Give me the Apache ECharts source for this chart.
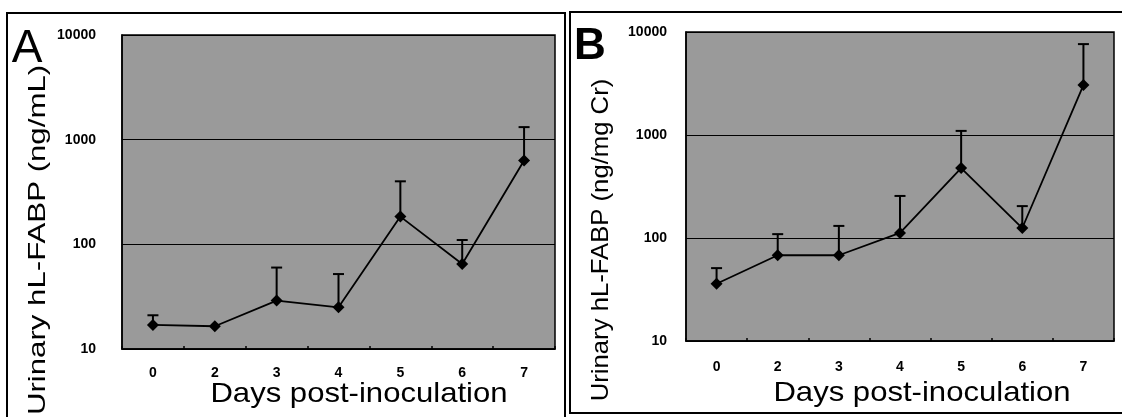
<!DOCTYPE html>
<html>
<head>
<meta charset="utf-8">
<script src="https://cdn.jsdelivr.net/npm/echarts@6/dist/echarts.min.js"></script>
<style>
  html, body { margin: 0; padding: 0; background: #fff; }
  #chart { width: 1122px; height: 417px; }
</style>
</head>
<body>
<div id="chart"></div>
<script>
'use strict';
// days post-inoculation
var days = ['0', '2', '3', '4', '5', '6', '7'];
// panel A: urinary hL-FABP (ng/mL), mean and top of error bar
var meanA = [17, 16.5, 29, 25, 184, 65, 632];
var upperA = [21, 16.5, 60, 52, 400, 110, 1318];
// panel B: urinary hL-FABP (ng/mg Cr)
var meanB = [36, 68, 68, 112, 478, 125, 3055];
var upperB = [51, 109, 131, 256, 1096, 204, 7630];
var yMin = 10, yMax = 10000;

var font = '"Liberation Sans", Arial, sans-serif';

function errData(mean, upper) {
  var out = [];
  for (var i = 0; i < mean.length; i++) {
    out.push([i, mean[i], upper[i]]);
  }
  return out;
}

function renderErr(params, api) {
  var idx = api.value(0);
  var base = api.coord([idx, api.value(1)]);
  var top = api.coord([idx, api.value(2)]);
  if (top[1] >= base[1] - 1) {
    return;
  }
  return {
    type: 'group',
    children: [
      {type: 'line', shape: {x1: base[0], y1: base[1], x2: top[0], y2: top[1]}, style: {stroke: '#000', lineWidth: 2}},
      {type: 'line', shape: {x1: top[0] - 5.5, y1: top[1], x2: top[0] + 5.5, y2: top[1]}, style: {stroke: '#000', lineWidth: 2}}
    ]
  };
}

function xAxisFor(gridIndex, margin) {
  return {
    type: 'category',
    gridIndex: gridIndex,
    data: days,
    boundaryGap: true,
    axisLine: {lineStyle: {color: '#000', width: 1.5}},
    axisTick: {show: true, inside: true, length: 3, lineStyle: {color: '#000', width: 1.5}},
    axisLabel: {color: '#000', fontFamily: font, fontSize: 14, fontWeight: 'bold', margin: margin},
    splitLine: {show: false}
  };
}

function yAxisFor(gridIndex, margin) {
  return {
    type: 'log',
    logBase: 10,
    gridIndex: gridIndex,
    min: yMin,
    max: yMax,
    axisLine: {show: true, lineStyle: {color: '#000', width: 1.5}},
    axisTick: {show: false},
    axisLabel: {
      color: '#000', fontFamily: font, fontSize: 14, fontWeight: 'bold', margin: margin,
      formatter: function (v) { return String(Math.round(v)); }
    },
    splitLine: {show: true, lineStyle: {color: '#000', width: 1}}
  };
}

function lineSeries(idx, data) {
  return {
    type: 'line',
    xAxisIndex: idx,
    yAxisIndex: idx,
    data: data,
    symbol: 'diamond',
    symbolSize: 12,
    itemStyle: {color: '#000'},
    lineStyle: {color: '#000', width: 1.8},
    z: 3,
    animation: false
  };
}

function errSeries(idx, mean, upper) {
  return {
    type: 'custom',
    xAxisIndex: idx,
    yAxisIndex: idx,
    data: errData(mean, upper),
    encode: {x: 0, y: [1, 2]},
    renderItem: renderErr,
    z: 2,
    animation: false
  };
}

var chart = echarts.init(document.getElementById('chart'));
chart.setOption({
  animation: false,
  backgroundColor: '#fff',
  grid: [
    {left: 122, top: 35, width: 433, height: 314, show: true, backgroundColor: '#9a9a9a',
      borderColor: '#000', borderWidth: 1.5, containLabel: false, outerBoundsMode: 'none'},
    {left: 686, top: 32, width: 428, height: 309, show: true, backgroundColor: '#9a9a9a',
      borderColor: '#000', borderWidth: 1.5, containLabel: false, outerBoundsMode: 'none'}
  ],
  xAxis: [xAxisFor(0, 17), xAxisFor(1, 19)],
  yAxis: [yAxisFor(0, 26), yAxisFor(1, 19)],
  series: [
    errSeries(0, meanA, upperA),
    lineSeries(0, meanA),
    errSeries(1, meanB, upperB),
    lineSeries(1, meanB)
  ],
  graphic: [
    // panel frames
    {type: 'rect', shape: {x: 7, y: 13, width: 558, height: 420}, style: {fill: 'none', stroke: '#000', lineWidth: 2}},
    {type: 'rect', shape: {x: 570, y: 12, width: 570, height: 401}, style: {fill: 'none', stroke: '#000', lineWidth: 2}},
    // panel letters
    {type: 'text', x: 27, y: 49, style: {text: 'A', font: '46px ' + font, fill: '#000', align: 'center', verticalAlign: 'middle', textAlign: 'center', textVerticalAlign: 'middle'}},
    {type: 'text', x: 590, y: 47, style: {text: 'B', font: 'bold 44px ' + font, fill: '#000', align: 'center', verticalAlign: 'middle', textAlign: 'center', textVerticalAlign: 'middle'}},
    // y titles
    {type: 'text', x: 38, y: 240, rotation: Math.PI / 2, scaleX: 1.3,
      style: {text: 'Urinary hL-FABP (ng/mL)', font: '24px ' + font, fill: '#000', align: 'center', verticalAlign: 'middle', textAlign: 'center', textVerticalAlign: 'middle'}},
    {type: 'text', x: 601, y: 240, rotation: Math.PI / 2, scaleX: 1.07,
      style: {text: 'Urinary hL-FABP (ng/mg Cr)', font: '24px ' + font, fill: '#000', align: 'center', verticalAlign: 'middle', textAlign: 'center', textVerticalAlign: 'middle'}},
    // x titles
    {type: 'text', x: 359, y: 394, scaleX: 1.11,
      style: {text: 'Days post-inoculation', font: '28px ' + font, fill: '#000', align: 'center', verticalAlign: 'middle', textAlign: 'center', textVerticalAlign: 'middle'}},
    {type: 'text', x: 922, y: 393, scaleX: 1.11,
      style: {text: 'Days post-inoculation', font: '28px ' + font, fill: '#000', align: 'center', verticalAlign: 'middle', textAlign: 'center', textVerticalAlign: 'middle'}}
  ]
});
</script>
</body>
</html>
